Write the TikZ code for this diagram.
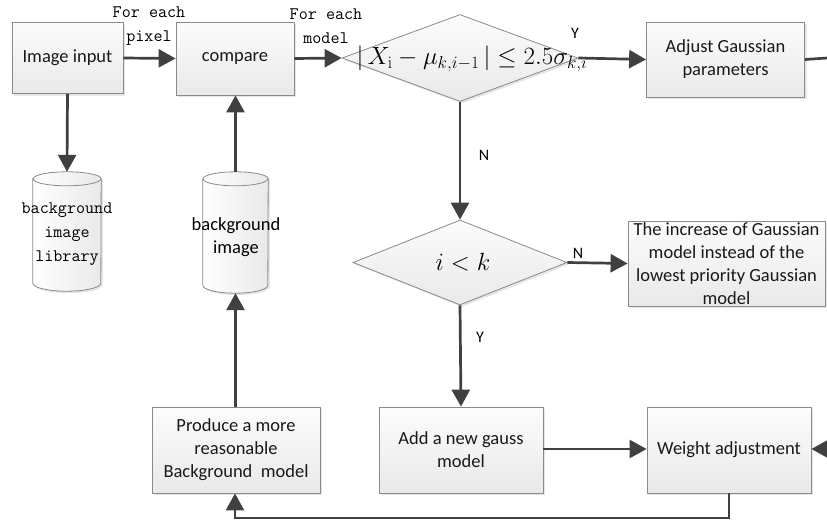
\documentclass[tikz,border=0pt]{standalone}
\usepackage[no-math]{fontspec}
\setmainfont{Carlito}
\usetikzlibrary{arrows.meta,shapes.geometric,shadows,calc}

\definecolor{ink}{HTML}{404040}
\definecolor{edge}{HTML}{8A8A8A}
\definecolor{boxtop}{HTML}{FCFCFC}
\definecolor{boxbot}{HTML}{E9E9E9}

\tikzset{
  x=1pt, y=1pt,
  flow/.style={draw=ink, line width=2.7pt, -{Triangle[length=17pt,width=18pt]}},
  wire/.style={draw=ink, line width=2.7pt},
  softshadow/.style={drop shadow={shadow xshift=2pt, shadow yshift=-2pt, opacity=0.2}},
  procbox/.style={rectangle, draw=edge, line width=0.8pt, top color=boxtop, bottom color=boxbot,
    softshadow, align=center, inner sep=0pt, text=black!90, font=\fontsize{18.5}{23}\selectfont},
  decision/.style={diamond, draw=edge, line width=0.8pt, top color=boxtop, bottom color=boxbot,
    softshadow, inner sep=0pt},
  drumframe/.style={rectangle, inner sep=0pt},
  drumbody/.style={draw=edge, line width=0.8pt, left color=white, right color=boxbot, softshadow},
  drumline/.style={draw=edge, line width=0.8pt},
  monolabel/.style={align=center, inner sep=0pt, font=\fontsize{17.6}{24}\ttfamily},
  sanslabel/.style={align=center, inner sep=0pt, font=\fontsize{18.5}{23}\selectfont},
  yn/.style={inner sep=0pt, font=\fontsize{16}{18}\selectfont},
  formula/.style={inner sep=0pt, font=\fontsize{23}{27}\selectfont},
  smallformula/.style={inner sep=0pt, font=\fontsize{24}{28}\selectfont}
}

% storage drum drawn inside a named frame node: #1 frame, #2 half width
\newcommand\drawdrum[2]{%
  \path[drumbody] ($(#1.north west)+(0,-7)$) -- ($(#1.south west)+(0,8)$)
    arc[start angle=180, end angle=360, x radius=#2, y radius=8pt]
    -- ($(#1.north east)+(0,-7)$)
    arc[start angle=0, end angle=180, x radius=#2, y radius=7pt] -- cycle;
  \path[drumline] ($(#1.north west)+(0,-7)$)
    arc[start angle=180, end angle=360, x radius=#2, y radius=7pt];
}

\begin{document}
\begin{tikzpicture}
\useasboundingbox (0,0) rectangle (827,-522);

% top row
\node[procbox, minimum width=111pt, minimum height=71pt] (img) at (67.5,-58) {Image input};
\node[procbox, minimum width=118pt, minimum height=73pt] (cmp) at (235,-58.5) {compare};
\node[decision, minimum width=236pt, minimum height=87pt] (test) at (460,-58) {};
\node[formula] (testtext) at (472,-59)
  {$\bigl|\,X_{\mathrm{i}}-\mu_{k,i-1}\,\bigr|\le 2.5\sigma_{k,i}$};
\node[procbox, minimum width=158pt, minimum height=75pt] (adj) at (725.5,-59.5)
  {Adjust Gaussian\\parameters};

% middle row
\node[decision, minimum width=214pt, minimum height=85pt] (cnt) at (460,-262.5) {};
\node[smallformula] (cnttext) at (463,-262.5) {$i<k$};
\node[procbox, minimum width=197pt, minimum height=85pt] (repl) at (726.5,-263.5)
  {The increase of Gaussian\\model instead of the\\lowest priority Gaussian\\model};

% storage drums
\node[drumframe, minimum width=68pt, minimum height=119pt] (lib) at (67,-231.5) {};
\drawdrum{lib}{34pt}
\node[monolabel] (libtext) at (67,-234.5) {background\\image\\library};
\node[drumframe, minimum width=65pt, minimum height=121pt] (bg) at (235.5,-232.5) {};
\drawdrum{bg}{32.5pt}
\node[sanslabel] (bgtext) at (236,-237) {background\\image};

% bottom row
\node[procbox, minimum width=168pt, minimum height=86pt] (prod) at (236,-450)
  {Produce a more\\reasonable\\Background~~model};
\node[procbox, minimum width=164pt, minimum height=86pt] (add) at (461,-450)
  {Add a new gauss\\model};
\node[procbox, minimum width=164pt, minimum height=86pt] (wgt) at (729,-450)
  {Weight adjustment};

% edge labels
\node[monolabel] (lpix) at (149,-26) {For each\\pixel};
\node[monolabel] (lmod) at (326,-26) {For each\\model};
\node[yn] (y1) at (575,-33) {Y};
\node[yn] (n1) at (484,-155) {N};
\node[yn] (n2) at (578,-253) {N};
\node[yn] (y2) at (480,-337) {Y};

% open ends at the right border
\coordinate (outA) at (827,-58);
\coordinate (outB) at (827,-449);
\coordinate (loopR) at (729,-518);
\coordinate (loopL) at (235,-518);

% connectors
\draw[flow] (img.east) -- (cmp.west);
\draw[flow] (cmp.east) -- (test.west);
\draw[flow] (test.east) -- (adj.west);
\draw[wire] (adj.east) -- (outA);
\draw[flow] (test.south) -- (cnt.north);
\draw[flow] (cnt.east) -- (repl.west);
\draw[flow] (cnt.south) -- (add.north);
\draw[flow] (add.east |- 0,-449) -- (wgt.west |- 0,-449);
\draw[flow] (outB) -- (wgt.east |- 0,-449);
\draw[flow] (wgt.south) -- (loopR) -- (loopL) -- (prod.south -| loopL);
\draw[flow] (prod.north -| bg.south) -- (bg.south);
\draw[flow] (bg.north) -- (cmp.south -| bg.north);
\draw[flow] (img.south) -- (lib.north);
\end{tikzpicture}
\end{document}
